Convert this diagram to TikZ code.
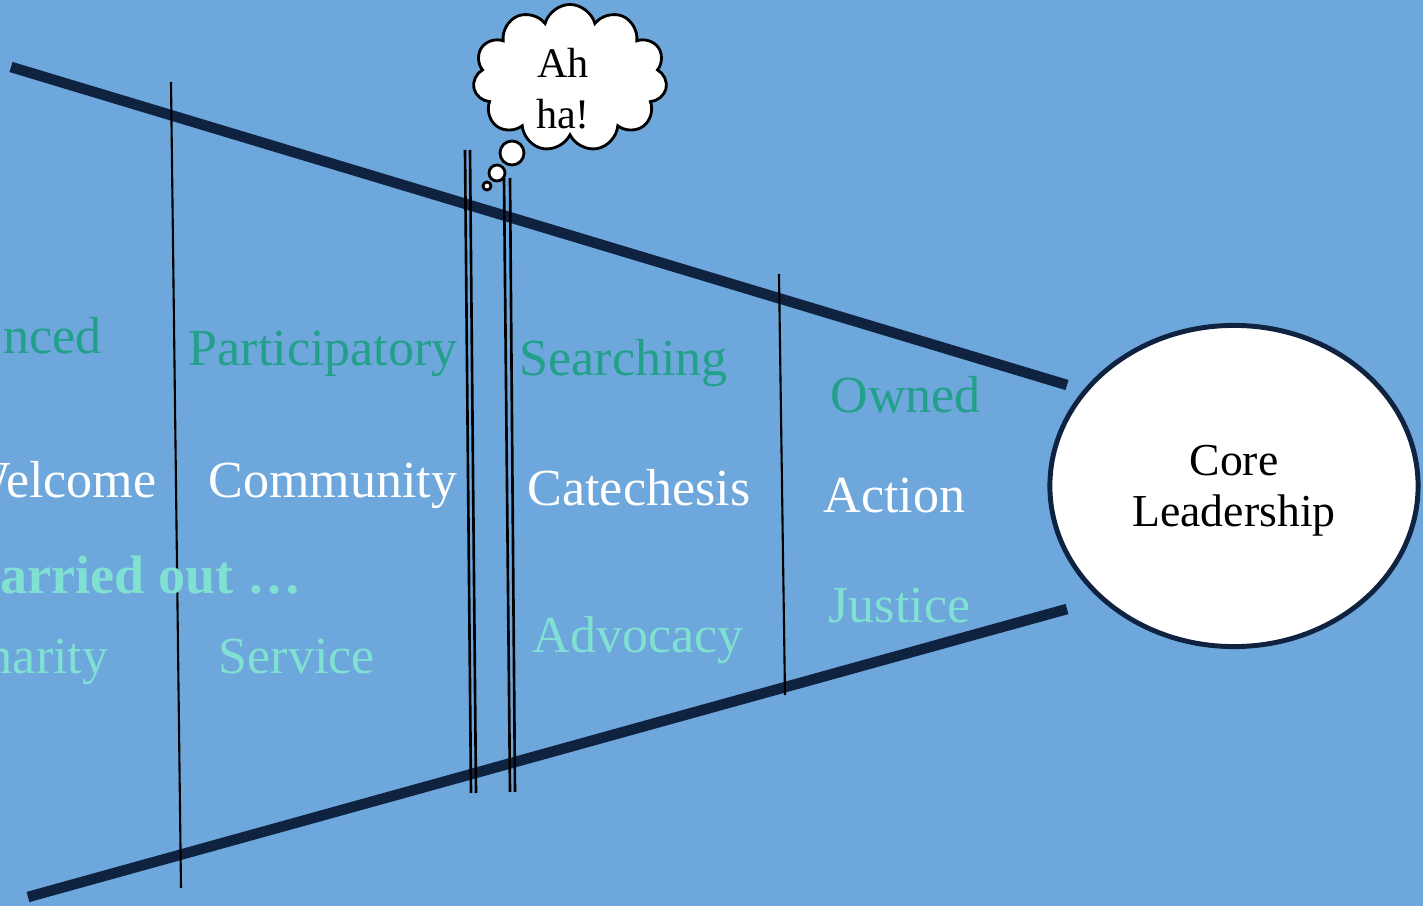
\documentclass[tikz,border=0pt]{standalone}
\usepackage{fontspec}
\setmainfont{Liberation Serif}
\usetikzlibrary{shapes.geometric,shapes.symbols}
\definecolor{slidebg}{HTML}{6DA7DC}
\definecolor{funnel}{HTML}{0F2340}
\definecolor{darkteal}{HTML}{22A08A}
\definecolor{lightteal}{HTML}{80E0D2}
\begin{document}
\begin{tikzpicture}[x=0.01cm, y=-0.01cm,
  word/.style={inner sep=0, font=\fontsize{14.8}{17}\selectfont},
  upper/.style={word, darkteal},
  middle/.style={word, white},
  lower/.style={word, lightteal},
  wall/.style={line width=0.6pt, black},
  puff/.style={circle, draw, fill=white, line width=0.8pt, inner sep=0}]
\fill[slidebg] (0,0) rectangle (1423,906);
\useasboundingbox (0,0) rectangle (1423,906);
\coordinate (top0) at (11,67);
\coordinate (top1) at (1067,385);
\coordinate (bot0) at (28,897);
\coordinate (bot1) at (1067,609);
\draw[funnel, line width=3pt](top0) -- (top1);
\draw[funnel, line width=3pt](bot0) -- (bot1);
\coordinate (div1a) at (171,82);
\coordinate (div1b) at (181,888);
\coordinate (div2a) at (465,150);
\coordinate (div2b) at (471,793);
\coordinate (div3a) at (470,150);
\coordinate (div3b) at (476,793);
\coordinate (div4a) at (504,178);
\coordinate (div4b) at (510,792);
\coordinate (div5a) at (510,178);
\coordinate (div5b) at (515,792);
\coordinate (div6a) at (779,274);
\coordinate (div6b) at (785,695);
\draw[wall](div1a) -- (div1b);
\draw[wall, line width=0.75pt](div2a) -- (div2b);
\draw[wall, line width=0.75pt](div3a) -- (div3b);
\draw[wall, line width=0.75pt](div4a) -- (div4b);
\draw[wall, line width=0.75pt](div5a) -- (div5b);
\draw[wall](div6a) -- (div6b);
\node[ellipse, draw=funnel, fill=white, line width=1.4pt, minimum width=3.68cm, minimum height=3.21cm] (core) at (1234,486){};
\node[inner sep=0, align=center, font=\fontsize{13}{14.5}\selectfont, anchor=base] (corelbl) at (1234,526){Core\\Leadership};
\node[cloud, cloud puffs=11, aspect=1.3, draw, fill=white, line width=0.8pt, minimum width=1.94cm, minimum height=1.47cm] (bubble) at (570,78){};
\node[inner sep=0, align=center, font=\fontsize{12}{14.5}\selectfont, anchor=base] (ahha) at (563,128){Ah\\ha!};
\node[puff, minimum size=0.24cm] (dot1) at (512,153){};
\node[puff, minimum size=0.16cm] (dot2) at (497,173){};
\node[puff, minimum size=0.08cm] (dot3) at (487,186){};
\node[upper, anchor=base east] (w1) at (102,353){nced};
\node[upper, anchor=base west] (w2) at (188,365){Participatory};
\node[upper, anchor=base west] (w3) at (519,375){Searching};
\node[upper, anchor=base west] (w4) at (830,412){Owned};
\node[middle, anchor=base east] (w5) at (157,497){Welcome};
\node[middle, anchor=base west] (w6) at (208,497){Community};
\node[middle, anchor=base west] (w7) at (527,505){Catechesis};
\node[middle, anchor=base west] (w8) at (823,512){Action};
\node[lower, anchor=base east, font=\fontsize{15.4}{17}\bfseries] (w9) at (302,593){Carried out …};
\node[lower, anchor=base east] (w10) at (109,673){Charity};
\node[lower, anchor=base west] (w11) at (218,673){Service};
\node[lower, anchor=base west] (w12) at (532,652){Advocacy};
\node[lower, anchor=base west] (w13) at (828,622){Justice};
\end{tikzpicture}
\end{document}
